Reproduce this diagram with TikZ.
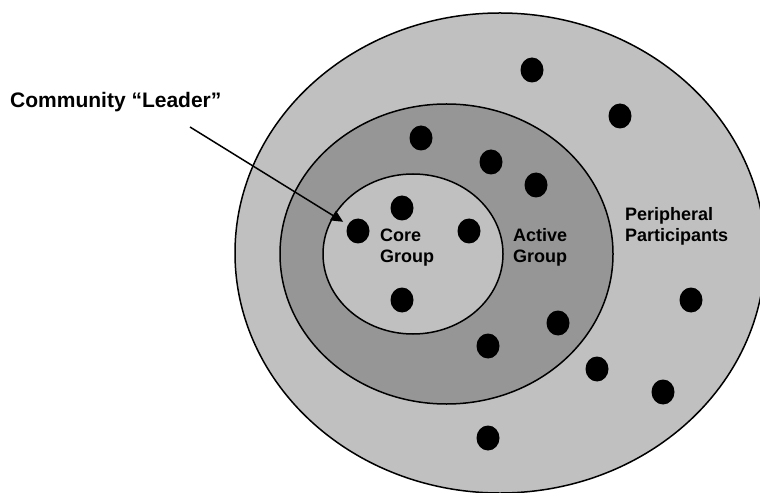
\documentclass[tikz,border=0pt]{standalone}
\usepackage{fontspec}
\setmainfont{Liberation Sans}
\usetikzlibrary{shapes.geometric, arrows.meta}

\definecolor{lightgrey}{gray}{0.753}
\definecolor{midgrey}{gray}{0.588}

\tikzset{
    ring/.style={ellipse, draw, line width=1.5bp, inner sep=0pt},
    member/.style={ellipse, fill=black, minimum width=23bp, minimum height=25bp, inner sep=0pt},
    grouplabel/.style={anchor=base west, align=left, inner sep=0pt,
        font=\fontsize{18bp}{21bp}\selectfont\bfseries},
}

\begin{document}
\begin{tikzpicture}[x=1bp, y=-1bp, >={Triangle[length=12bp, width=11bp]}]
    \useasboundingbox (0,0) rectangle (760,493);

    % --- ANILLOS ---
    \node[ring, fill=lightgrey, minimum width=530bp, minimum height=480bp] (outer)  at (500,253)   {};
    \node[ring, fill=midgrey,   minimum width=333bp, minimum height=300bp] (active) at (446.5,254) {};
    \node[ring, fill=lightgrey, minimum width=180bp, minimum height=160bp] (core)   at (413,254)   {};

    % --- MIEMBROS ---
    \foreach \name/\x/\y in {p1/532/70, p2/620/116, p3/691/300, p4/597/369, p5/663/392, p6/488/438,
                             a1/421/138, a2/491/162, a3/536/185, a4/558/323, a5/488/346,
                             c1/402/208, c2/469/231, c3/402/300}
        \node[member] (\name) at (\x,\y) {};
    \node[member] (leader) at (358,231) {}; % el lider

    % --- TEXTOS ---
    % (la base del nodo es la de la ultima linea)
    \node[grouplabel] (coretext)   at (380,263) {Core\\Group};
    \node[grouplabel] (activetext) at (513,263) {Active\\Group};
    \node[grouplabel] (periphtext) at (625,242) {Peripheral\\Participants};
    \node[anchor=base west, inner sep=0pt, font=\fontsize{21bp}{25bp}\selectfont\bfseries]
        (leadertext) at (10,108) {Community “Leader”};

    % --- FLECHA ---
    \coordinate (tail) at (190,127);
    \draw[->, line width=1.5bp, shorten >=5.5bp] (tail) -- (leader);
\end{tikzpicture}
\end{document}
